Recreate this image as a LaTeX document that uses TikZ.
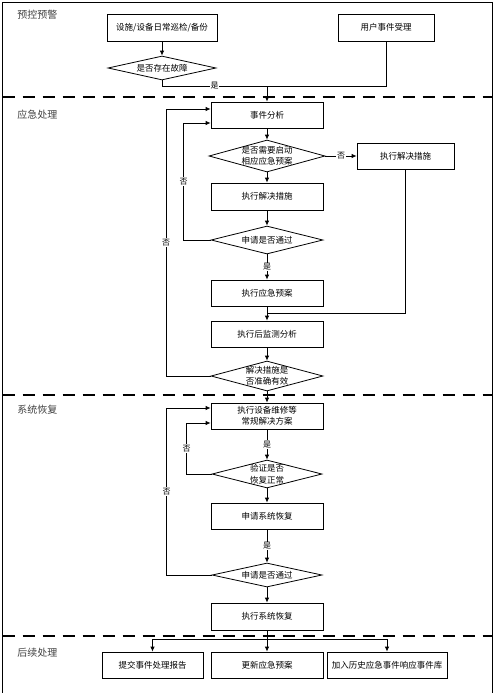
\documentclass[tikz,border=0pt]{standalone}
\usepackage{fontspec}
\newfontfamily\cjk{Noto Sans CJK SC}
\usetikzlibrary{shapes.geometric,arrows.meta}
\begin{document}
\begin{tikzpicture}[x=1pt, y=-1pt, line width=0.8pt, >={Latex[length=5pt,width=4.5pt]},
  main/.style = {draw, rectangle, minimum width=112pt, minimum height=26pt, inner sep=0pt, align=center, font=\cjk\fontsize{8.5}{11.5}\selectfont},
  cond/.style = {draw, diamond, minimum width=112pt, minimum height=28pt, inner sep=-10pt, align=center, font=\cjk\fontsize{8.5}{11.5}\selectfont},
  lab/.style = {fill=white, inner sep=0.6pt, font=\cjk\fontsize{8}{8}\selectfont},
  lane/.style = {anchor=west, inner sep=0pt, text=black!75, font=\cjk\fontsize{10}{10}\selectfont},
  sep/.style = {line width=1.8pt, dash pattern=on 12pt off 8pt}]
  \useasboundingbox (0,0) rectangle (495,693);
  \draw [line width=1.4pt] (2.7,2.7) rectangle (492.5,710);
  \draw [sep] (2.7,97) -- (492.5,97);
  \draw [sep] (2.7,395) -- (492.5,395);
  \draw [sep] (2.7,636) -- (492.5,636);
  \node[lane] (l1) at (17,15) {预控预警};
  \node[lane] (l2) at (17,115) {应急处理};
  \node[lane] (l3) at (17,410) {系统恢复};
  \node[lane] (l4) at (17,653) {后续处理};
  % 预控预警
  \node[main,minimum width=110pt,minimum height=27pt] (inspect) at (162,27.5) {设施/设备日常巡检/备份};
  \node[main,minimum width=96pt,minimum height=27pt] (user) at (386,27.5) {用户事件受理};
  \node[cond,minimum width=108pt,minimum height=24pt] (fault) at (162,68) {是否存在故障};
  \coordinate (top) at (267,86);
  % 应急处理
  \node[main] (analysis) at (267,115) {事件分析};
  \node[cond,minimum width=116pt,minimum height=32pt] (need) at (267,156) {是否需要启动\\相应应急预案};
  \node[main,minimum width=97pt] (solve2) at (405.5,156) {执行解决措施};
  \node[main,minimum height=27pt] (solve) at (267,196.5) {执行解决措施};
  \node[cond] (pass1) at (267,240) {申请是否通过};
  \node[main] (plan) at (267,293) {执行应急预案};
  \coordinate (merge) at (267,313);
  \node[main] (monitor) at (267,334) {执行后监测分析};
  \node[cond,minimum height=30pt] (valid) at (267,376) {解决措施是\\否准确有效};
  % 系统恢复
  \node[main] (repair) at (267,416) {执行设备维修等\\常规解决方案};
  \node[cond,minimum width=110pt] (verify) at (267,474) {验证是否\\恢复正常};
  \node[main] (apply) at (267,516) {申请系统恢复};
  \node[cond,minimum width=110pt,minimum height=24pt] (pass2) at (267,575) {申请是否通过};
  \node[main,minimum height=27pt] (recover) at (267,616.5) {执行系统恢复};
  \coordinate (fan) at (267,639);
  % 后续处理
  \node[main,minimum width=101pt] (report) at (152.5,665) {提交事件处理报告};
  \node[main] (update) at (267,665) {更新应急预案};
  \node[main,minimum width=120pt] (archive) at (387,665) {加入历史应急事件响应事件库};
  % connectors
  \draw[->] (inspect) -- (fault);
  \draw (fault.south) |- node[lab,pos=0.75] {是} (top);
  \draw (user.south) |- (top);
  \draw[->] (top) -- (analysis);
  \draw[->] (analysis) -- (need);
  \draw[->] (need) -- node[lab] {否} (solve2);
  \draw[->] (need) -- (solve);
  \draw[->] (solve) -- (pass1);
  \draw[->] (pass1) -- node[lab] {是} (plan);
  \draw (solve2.south) |- (merge);
  \draw[->] (plan) -- (monitor);
  \draw[->] (monitor) -- (valid);
  \draw[->] (pass1.west) -- ++(-27,0) |- node[lab,pos=0.25] {否} ([yshift=-8pt]analysis.west);
  \draw[->] (valid.west) -- ++(-44.5,0) |- node[lab,pos=0.25] {否} ([yshift=6pt]analysis.west);
  \draw[->] (valid) -- (repair);
  \draw[->] (repair) -- node[lab] {是} (verify);
  \draw[->] (verify) -- (apply);
  \draw[->] (apply) -- node[lab] {是} (pass2);
  \draw[->] (pass2) -- (recover);
  \draw[->] (verify.west) -- ++(-25,0) |- node[lab,pos=0.25] {否} ([yshift=-7pt]repair.west);
  \draw[->] (pass2.west) -- ++(-45,0) |- node[lab,pos=0.25] {否} ([yshift=8pt]repair.west);
  \draw[->] (recover) -- (update);
  \draw[->] (fan) -| (report);
  \draw[->] (fan) -| (archive);
\end{tikzpicture}
\end{document}
